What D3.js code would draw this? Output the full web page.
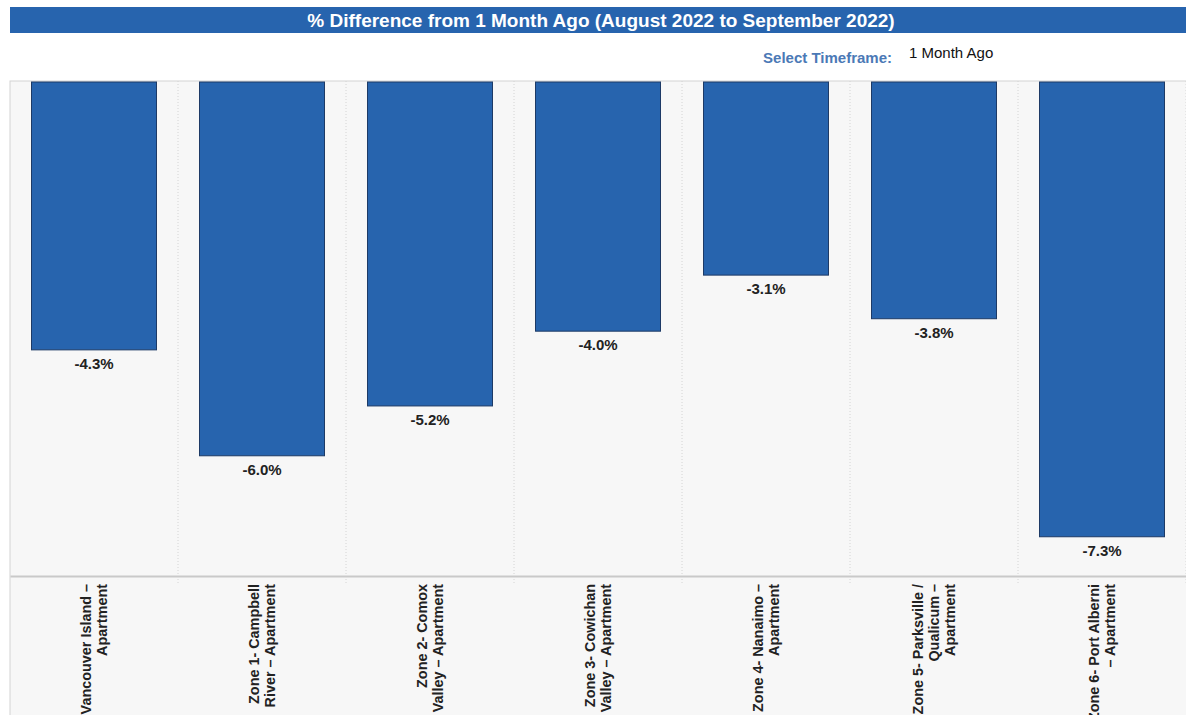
<!DOCTYPE html>
<html>
<head>
<meta charset="utf-8">
<script src="https://cdn.jsdelivr.net/npm/d3@7"></script>
<style>
  html, body { margin: 0; padding: 0; background: #ffffff; overflow: hidden; }
  svg { display: block; font-family: "Liberation Sans", Arial, sans-serif; }
</style>
</head>
<body>
<svg id="chart" width="1186" height="715"></svg>
<script>
// Regions (label lines) and month-over-month change in %
const categories = [
  ["Vancouver Island –", "Apartment"],
  ["Zone 1- Campbell", "River – Apartment"],
  ["Zone 2- Comox", "Valley – Apartment"],
  ["Zone 3- Cowichan", "Valley – Apartment"],
  ["Zone 4- Nanaimo –", "Apartment"],
  ["Zone 5- Parksville /", "Qualicum –", "Apartment"],
  ["Zone 6- Port Alberni", "– Apartment"]
];
const values = [-4.3, -6.0, -5.2, -4.0, -3.1, -3.8, -7.3];
const titleText = "% Difference from 1 Month Ago (August 2022 to September 2022)";
const timeframeLabel = "Select Timeframe:";
const timeframeValue = "1 Month Ago";

const W = 1186, H = 715;
const plotLeft = 10, plotRight = 1186, plotTop = 81, axisY = 576;
const blue = "#2764ae";

const svg = d3.select("#chart");

// Title bar
svg.append("rect").attr("x", plotLeft).attr("y", 7).attr("width", plotRight - plotLeft).attr("height", 26)
  .attr("fill", blue);
svg.append("text").attr("x", 601).attr("y", 26.5).attr("text-anchor", "middle")
  .attr("fill", "#ffffff").attr("font-weight", "bold").attr("font-size", 19)
  .text(titleText);

// Timeframe selector
svg.append("text").attr("x", 892).attr("y", 63).attr("text-anchor", "end")
  .attr("fill", "#4b79b6").attr("font-weight", "bold").attr("font-size", 15)
  .text(timeframeLabel);
svg.append("text").attr("x", 909).attr("y", 58)
  .attr("fill", "#111").attr("font-size", 15)
  .text(timeframeValue);

// Plot panel
svg.append("rect").attr("x", plotLeft).attr("y", plotTop)
  .attr("width", plotRight - plotLeft + 2).attr("height", H - plotTop + 2)
  .attr("fill", "#f7f7f7").attr("stroke", "#d3d3d3").attr("stroke-width", 1);

const x = d3.scaleBand().domain(d3.range(values.length)).range([plotLeft, plotRight])
  .paddingInner(0.25).paddingOuter(0.125);
const y = d3.scaleLinear().domain([0, -7.93]).range([82, axisY]);

// Dotted column separators
const step = x.step();
const seps = d3.range(1, values.length + 1).map(i => plotLeft + i * step);
svg.append("g").selectAll("line").data(seps).join("line")
  .attr("x1", d => d).attr("x2", d => d).attr("y1", plotTop).attr("y2", axisY + 8)
  .attr("stroke", "#d4d4d4").attr("stroke-width", 1).attr("stroke-dasharray", "1,2");

// Bars
svg.append("g").selectAll("rect").data(values).join("rect")
  .attr("x", (d, i) => x(i) + 0.5)
  .attr("y", y(0))
  .attr("width", x.bandwidth() - 1)
  .attr("height", d => y(d) - y(0))
  .attr("fill", blue).attr("stroke", "#1d3a66").attr("stroke-width", 1);

// Value labels
svg.append("g").selectAll("text").data(values).join("text")
  .attr("x", (d, i) => x(i) + x.bandwidth() / 2)
  .attr("y", d => y(d) + 19)
  .attr("text-anchor", "middle").attr("font-weight", "bold").attr("font-size", 15)
  .attr("fill", "#222")
  .text(d => d.toFixed(1) + "%");

// Baseline axis
const xAxis = d3.axisBottom(x).tickSize(0).tickFormat("");
const ax = svg.append("g").attr("transform", `translate(0,${axisY})`).call(xAxis);
ax.select(".domain").attr("stroke", "#c9c9c9").attr("stroke-width", 2);

// Rotated category labels
const lineH = 16;
const lbl = svg.append("g").selectAll("text").data(categories).join("text")
  .attr("transform", (d, i) => {
    const cx = x(i) + x.bandwidth() / 2;
    return `translate(${cx},${axisY + 8}) rotate(-90)`;
  })
  .attr("text-anchor", "end").attr("font-weight", "bold").attr("font-size", 14.4)
  .attr("fill", "#222");
lbl.each(function(lines) {
  const t = d3.select(this);
  const n = lines.length;
  lines.forEach((s, k) => {
    t.append("tspan").attr("x", 0)
      .attr("y", (k - (n - 1) / 2) * lineH + 5)
      .text(s);
  });
});
</script>
</body>
</html>
